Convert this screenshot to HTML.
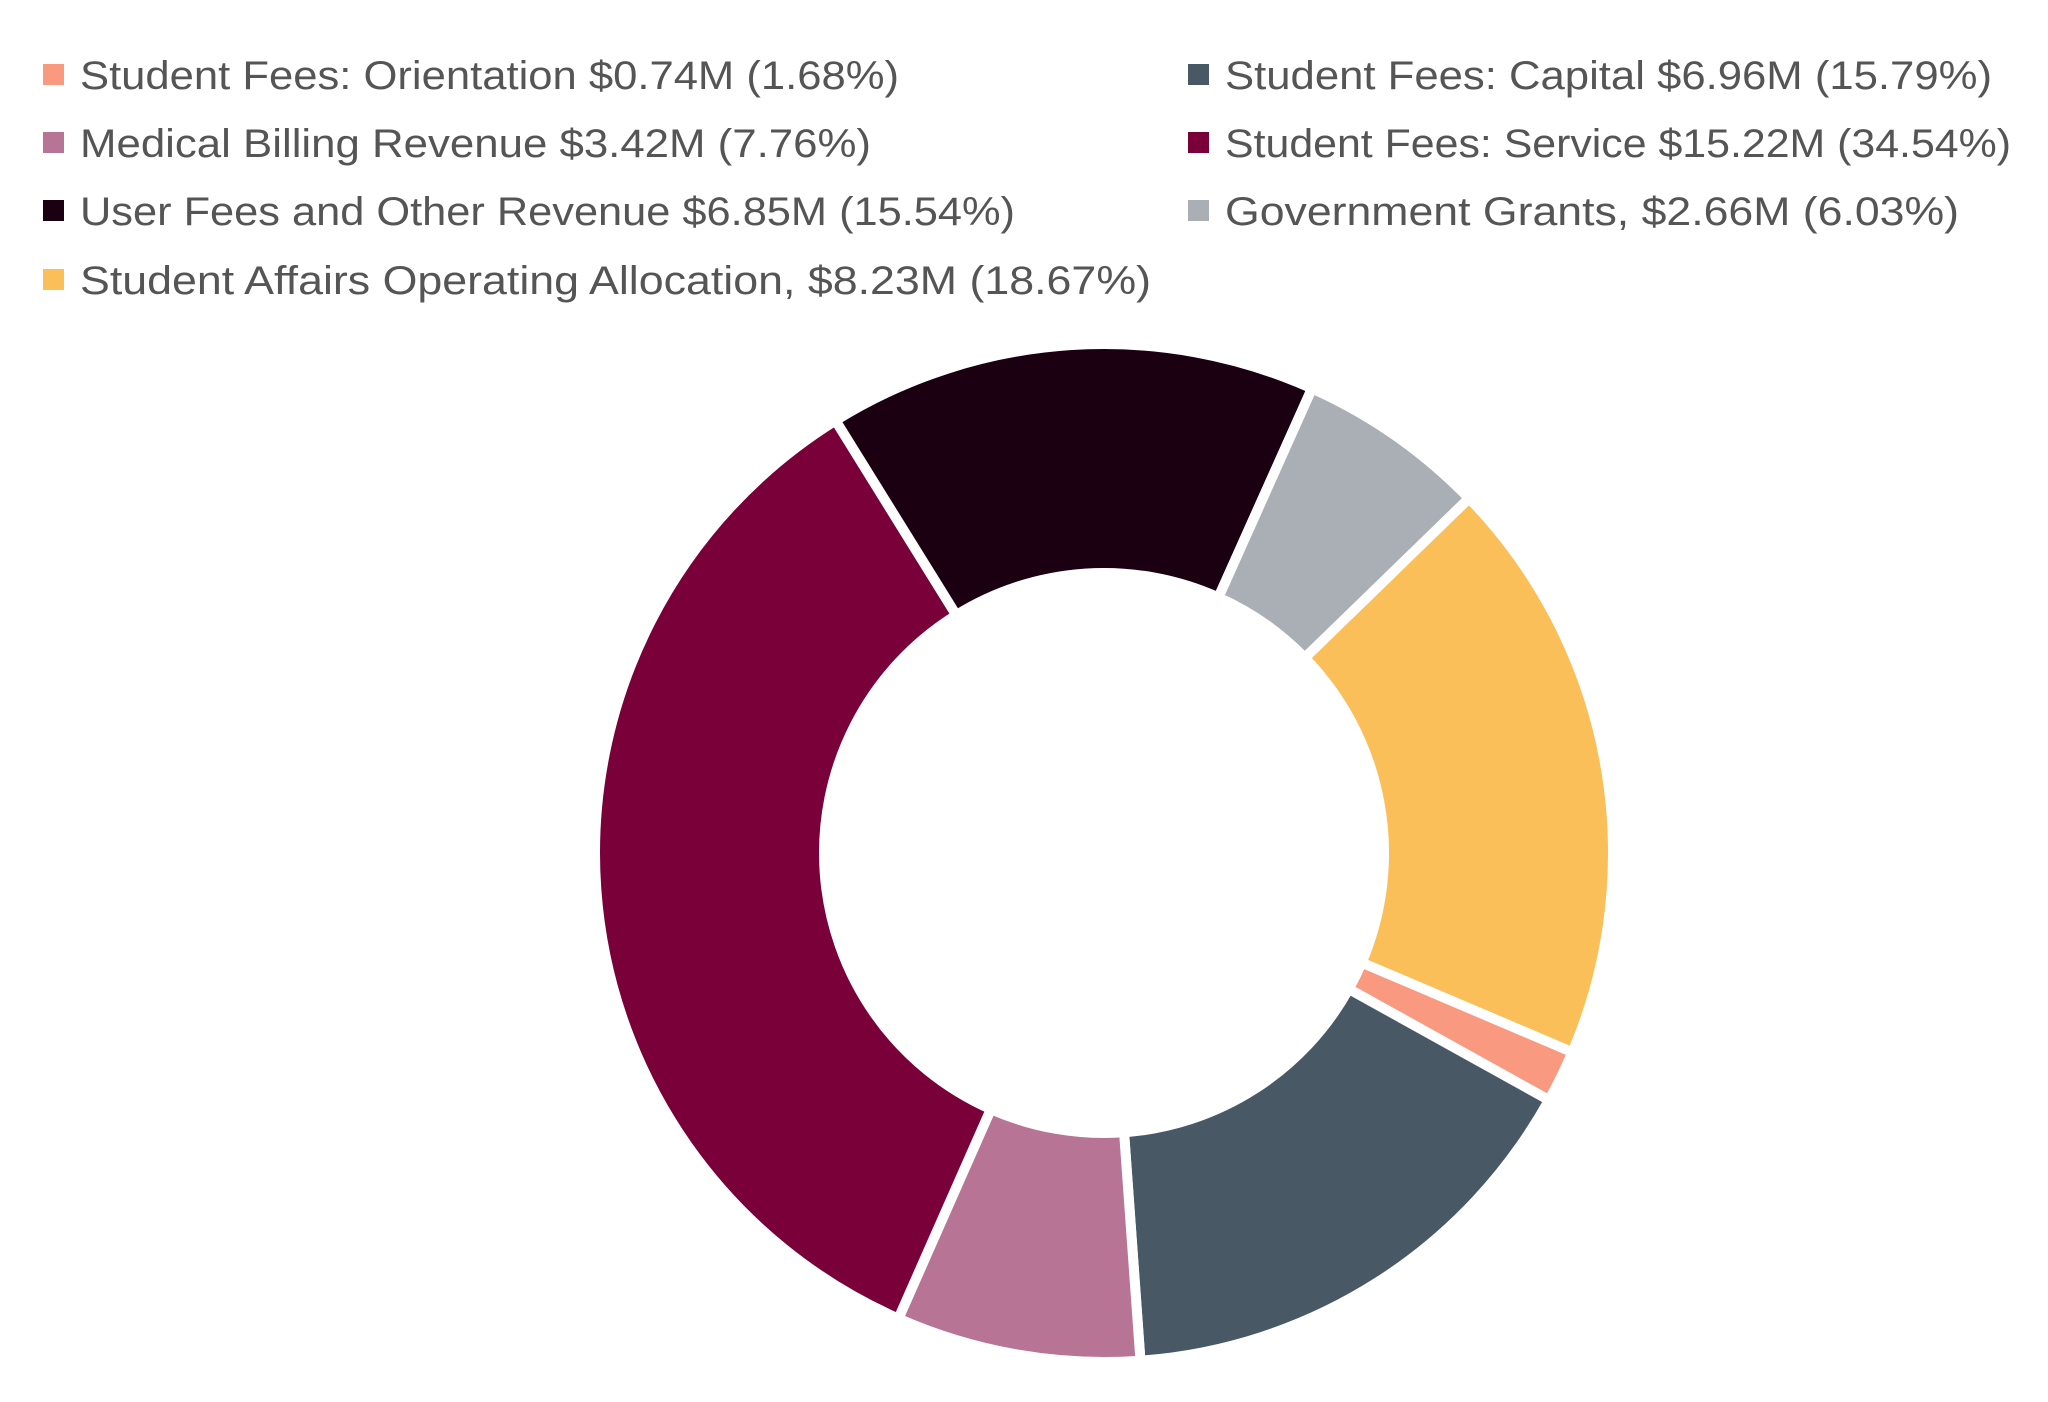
<!DOCTYPE html>
<html><head><meta charset="utf-8"><style>
html,body{margin:0;padding:0;background:#fff;}
svg{display:block;}
text{font-family:"Liberation Sans",sans-serif;font-size:40px;fill:#555;}
</style></head><body>
<svg id="s" width="2048" height="1402" viewBox="0 0 2048 1402">
<rect x="43" y="64" width="21" height="21" fill="#F99A80"/>
<text x="80" y="89" textLength="819" lengthAdjust="spacingAndGlyphs">Student Fees: Orientation $0.74M (1.68%)</text>
<rect x="1188" y="64" width="21" height="21" fill="#485865"/>
<text x="1225" y="89" textLength="767" lengthAdjust="spacingAndGlyphs">Student Fees: Capital $6.96M (15.79%)</text>
<rect x="43" y="132" width="21" height="21" fill="#B77495"/>
<text x="80" y="157" textLength="791" lengthAdjust="spacingAndGlyphs">Medical Billing Revenue $3.42M (7.76%)</text>
<rect x="1188" y="132" width="21" height="21" fill="#7A003A"/>
<text x="1225" y="157" textLength="786" lengthAdjust="spacingAndGlyphs">Student Fees: Service $15.22M (34.54%)</text>
<rect x="43" y="200" width="21" height="21" fill="#1A0010"/>
<text x="80" y="225" textLength="935" lengthAdjust="spacingAndGlyphs">User Fees and Other Revenue $6.85M (15.54%)</text>
<rect x="1188" y="200" width="21" height="21" fill="#A9AFB4"/>
<text x="1225" y="225" textLength="734" lengthAdjust="spacingAndGlyphs">Government Grants, $2.66M (6.03%)</text>
<rect x="43" y="269" width="21" height="21" fill="#FBBF5A"/>
<text x="80" y="294" textLength="1071" lengthAdjust="spacingAndGlyphs">Student Affairs Operating Allocation, $8.23M (18.67%)</text>
<g id="pie"></g>
</svg>
<script>
var data=[[1.68,"#F99A80"],[15.79,"#485865"],[7.76,"#B77495"],[34.54,"#7A003A"],[15.54,"#1A0010"],[6.03,"#A9AFB4"],[18.67,"#FBBF5A"]];
var cx=1104,cy=853,R=509,r=280,a=113,g=document.getElementById("pie"),h="";
function p(rad,deg){var t=deg*Math.PI/180;return (cx+rad*Math.sin(t)).toFixed(2)+","+(cy-rad*Math.cos(t)).toFixed(2);}
data.forEach(function(d){var b=a+d[0]*3.6,l=(b-a)>180?1:0;
h+='<path d="M'+p(R,a)+'A'+R+','+R+' 0 '+l+' 1 '+p(R,b)+'L'+p(r,b)+'A'+r+','+r+' 0 '+l+' 0 '+p(r,a)+'Z" fill="'+d[1]+'" stroke="#fff" stroke-width="10" stroke-linejoin="miter"/>';a=b;});
g.innerHTML=h;
</script>
</body></html>
